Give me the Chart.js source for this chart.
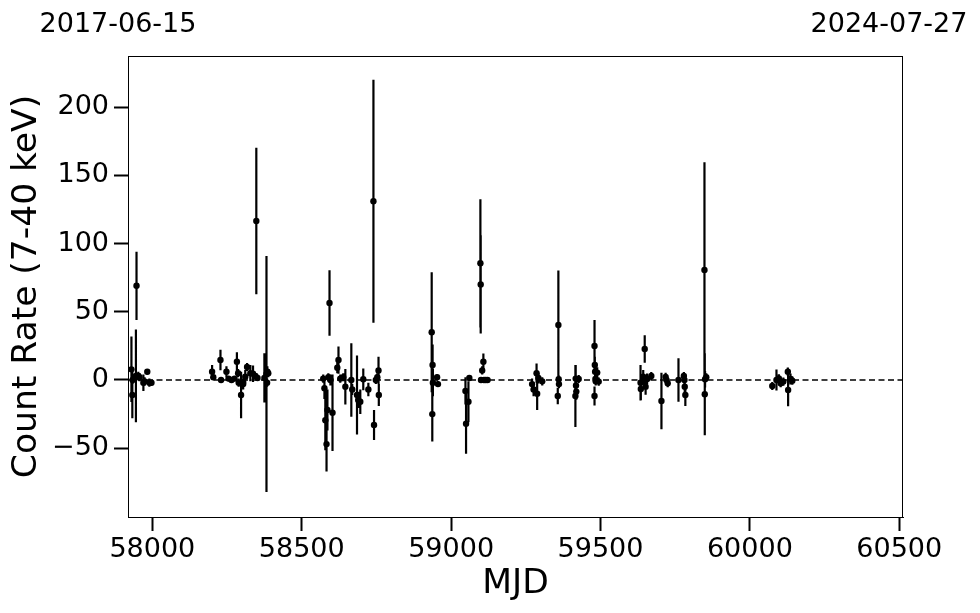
<!DOCTYPE html>
<html lang="en">
<head>
<meta charset="UTF-8">
<title>Count Rate (7-40 keV) vs MJD</title>
<script src="https://cdn.jsdelivr.net/npm/chart.js@4"></script>
<style>
  html, body { margin: 0; padding: 0; background: #fff; }
  .wrap { position: relative; width: 980px; height: 613px; }
</style>
</head>
<body>
<div class="wrap"><canvas id="lc"></canvas></div>
<script>
// light curve
const mjd = [
  57930, 57933, 57934, 57945, 57947, 57953, 57957, 57970, 57974, 57983, 57990, 57997,
  58200, 58204, 58228, 58230, 58248, 58255, 58265, 58275, 58283, 58287, 58289, 58297,
  58304, 58311, 58317, 58328, 58337, 58345, 58348, 58352, 58375, 58382, 58384, 58385, 58388,
  58572, 58576, 58579, 58583, 58586, 58589, 58593, 58596, 58603, 58619, 58623, 58629,
  58639, 58646, 58666, 58669, 58685, 58689, 58696, 58706, 58723, 58740, 58742, 58748,
  58753, 58757, 58758,
  58935, 58937, 58938, 58939, 58953, 58956, 59048, 59050, 59058, 59061, 59098, 59099,
  59100, 59104, 59108, 59110, 59116, 59122,
  59271, 59276, 59286, 59288, 59292, 59305, 59357, 59359, 59360, 59361, 59416, 59417,
  59418, 59419, 59427, 59480, 59480, 59481, 59482, 59483, 59484, 59489, 59494,
  59634, 59635, 59643, 59647, 59648, 59651, 59656, 59670, 59704, 59718, 59721, 59725,
  59761, 59779, 59781, 59782, 59784, 59848, 59849, 59850, 59854,
  60075, 60089, 60097, 60103, 60112, 60127, 60128, 60136, 60142
];
const rate = [
  7.8, -11, 0, 3, 69, 3, 2, -2, -1, 6, -2, -2,
  6, 2, 14.6, 0, 6, 1, 0, 1, 13.4, 5, -2, -11,
  -3, 2.4, 9.5, 5, 4.6, 3, 116.5, 1.5, 1.5, 4.4, -2, 6, 5,
  1, -6, -29.5, -47, -22, 2, 56.4, 0, -24, 9, 14.6, 1,
  2, -5, 0, -7, -11, -14.6, -16, 0.5, -7, 131, -33, 0,
  2, 7, -11,
  35, -25, 11, -2, 2, -3, -8, -32, -16, 1.5, 85.5, 70,
  0, 7, 13.4, 0, 0, 0,
  -3, -7, 5, -10, 1.5, -1, -11.7, 40.3, 0.5, -3, -11.7, 1,
  -4, -8.5, 0.7, 24.9, -11.7, 11, 6, 0.7, -1, 5.4, -1.2,
  -2, -6.6, 2.4, -1.2, 22.7, -4.9, 0.7, 2.9, -15.4, 2.3, 0, -2.4,
  0, 2.9, 0, -4.9, -11, 80.6, -10.5, 0.5, 2,
  -4.4, 0, 1.2, -2.4, -1.2, 6.1, -7.3, 0.7, -0.5
];
const rateErr = [
  24, 17, 3, 34, 25, 3, 3, 6, 3, 2, 3, 2,
  5, 2, 7.5, 2, 4, 2, 2, 2, 7, 3, 3, 17,
  4, 5, 3, 6, 6, 2, 53.7, 2, 18, 86.5, 3, 4, 3,
  3, 8, 22, 20, 15, 3, 24, 4, 28, 4, 10, 3,
  3, 13, 27, 4, 29, 6, 9, 8, 5, 89, 11, 3,
  3, 10, 8,
  44, 20, 15, 10, 2, 2, 10, 22, 15, 2, 47, 36,
  2, 3, 6, 2, 2, 2,
  4, 5, 7, 12, 4, 3, 6, 40, 3, 3, 22.7, 10,
  5, 6, 3, 19, 7, 6, 4, 3, 3, 4, 3,
  13, 8, 5, 4, 10, 6, 4, 3, 20.7, 3, 3, 3,
  16, 3, 4, 5, 8, 79, 30, 6, 3,
  3, 7.7, 3, 3, 3, 3, 12, 4, 3
];

const xTicks = [58000, 58500, 59000, 59500, 60000, 60500];
const yTicks = [-50, 0, 50, 100, 150, 200];
const xRange = [57918.5, 60512.5];
const yRange = [-100.4, 237.4];
const dateLabels = ['2017-06-15', '2024-07-27'];

const FONT = "'DejaVu Sans', sans-serif";

const points = mjd.map((m, i) => ({ x: m, y: rate[i] }));

// vertical error bars, drawn through the chart scales
const errorBars = {
  id: 'errorBars',
  beforeDatasetsDraw(chart) {
    const { ctx, scales: { x, y } } = chart;
    ctx.save();
    ctx.strokeStyle = '#000';
    ctx.lineWidth = 2.2;
    ctx.beginPath();
    mjd.forEach((m, i) => {
      const px = x.getPixelForValue(m);
      ctx.moveTo(px, y.getPixelForValue(rate[i] - rateErr[i]));
      ctx.lineTo(px, y.getPixelForValue(rate[i] + rateErr[i]));
    });
    ctx.stroke();
    ctx.restore();
  }
};

// box around the plot + the two date labels on top
const frame = {
  id: 'frame',
  afterDraw(chart) {
    const { ctx, chartArea: a } = chart;
    ctx.save();
    ctx.strokeStyle = '#000';
    ctx.lineWidth = 1;
    ctx.strokeRect(a.left + 0.5, a.top + 0.5, a.right - a.left - 1, a.bottom - a.top);
    ctx.fillStyle = '#000';
    ctx.font = '27px ' + FONT;
    ctx.textAlign = 'center';
    ctx.textBaseline = 'alphabetic';
    ctx.fillText(dateLabels[0], 118, 32);
    ctx.fillText(dateLabels[1], 889, 32);
    ctx.restore();
  }
};

new Chart(document.getElementById('lc'), {
  type: 'scatter',
  data: {
    datasets: [
      {
        type: 'line',
        data: [{ x: xRange[0], y: 0 }, { x: xRange[1], y: 0 }],
        borderColor: '#000',
        borderWidth: 1.6,
        borderDash: [6, 3.5],
        pointRadius: 0,
        fill: false
      },
      {
        data: points,
        backgroundColor: '#000',
        borderColor: '#000',
        pointRadius: 3.2,
        pointBorderWidth: 0
      }
    ]
  },
  options: {
    responsive: true,
    maintainAspectRatio: false,
    animation: false,
    layout: { padding: { left: 0, top: 56, right: 77, bottom: 0 } },
    plugins: { legend: { display: false }, tooltip: { enabled: false } },
    scales: {
      x: {
        type: 'linear',
        min: xRange[0],
        max: xRange[1],
        afterBuildTicks: s => { s.ticks = xTicks.map(v => ({ value: v })); },
        afterFit: s => { s.height = 96; },
        grid: { drawOnChartArea: false, drawTicks: true, tickLength: 14, tickWidth: 2, tickColor: '#000' },
        border: { display: true, color: '#000', width: 1 },
        ticks: { color: '#000', font: { family: FONT, size: 27 }, padding: 3, maxRotation: 0, callback: v => String(v) },
        title: { display: true, text: 'MJD', color: '#000', font: { family: FONT, size: 34.5 }, padding: { top: 0, bottom: 8 } }
      },
      y: {
        type: 'linear',
        min: yRange[0],
        max: yRange[1],
        afterBuildTicks: s => { s.ticks = yTicks.map(v => ({ value: v })); },
        afterFit: s => { s.width = 128; },
        grid: { drawOnChartArea: false, drawTicks: true, tickLength: 14, tickWidth: 2, tickColor: '#000' },
        border: { display: true, color: '#000', width: 1 },
        ticks: { color: '#000', font: { family: FONT, size: 27 }, padding: 5, callback: v => (v < 0 ? '\u2212' + Math.abs(v) : String(v)) },
        title: { display: true, text: 'Count Rate (7-40 keV)', color: '#000', font: { family: FONT, size: 34.5 }, padding: { top: 6, bottom: 0 } }
      }
    }
  },
  plugins: [errorBars, frame]
});
</script>
</body>
</html>
